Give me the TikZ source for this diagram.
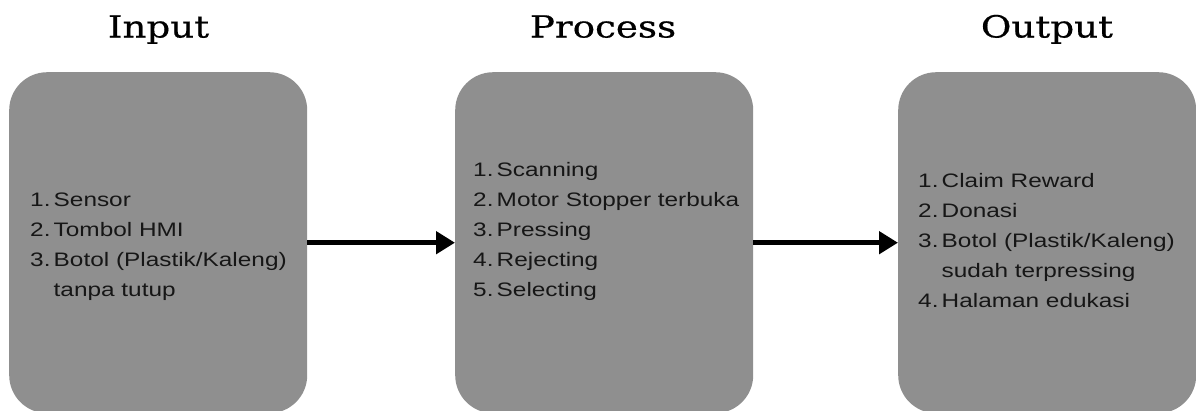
\documentclass[tikz,border=0pt]{standalone}
\usepackage{fontspec}
\setmainfont{Liberation Sans}
\newfontfamily\bodyfont[FakeStretch=1.25]{Liberation Sans}
\newfontfamily\titlefont[FakeStretch=1.22,FakeBold=0.5]{DejaVu Serif}
\usetikzlibrary{arrows.meta}
\definecolor{boxgrey}{HTML}{8F8F8F}
\definecolor{txt}{HTML}{161616}
\newcommand{\itm}[2]{\makebox[23.5pt][l]{#1}#2}
\begin{document}
\begin{tikzpicture}[x=1pt,y=-1pt,
  greybox/.style={fill=boxgrey, draw=none, rounded corners=38pt,
    minimum width=298pt, minimum height=341pt, anchor=north west, inner sep=0pt},
  title/.style={font=\titlefont\fontsize{30.5}{36}\selectfont, anchor=base, inner sep=0pt, text=black},
  listtext/.style={font=\bodyfont\fontsize{19.5}{30}\selectfont, anchor=base west, inner sep=0pt, text=txt},
  flow/.style={line width=5pt, -{Triangle[length=19pt,width=22pt]}}]
\useasboundingbox (0,0) rectangle (1196,410);
\node[greybox] (in) at (9,72) {};
\node[greybox] (pr) at (455,72) {};
\node[greybox] (out) at (898,72) {};
\node[title] (tin) at (158.5,37.5) {Input};
\node[title] (tpr) at (603,37.5) {Process};
\node[title] (tout) at (1047,37.5) {Output};
\node[listtext] (lin) at (30,206) {\begin{tabular}[t]{@{}l@{}}
\itm{1.}{Sensor}\\
\itm{2.}{Tombol HMI}\\
\itm{3.}{Botol (Plastik/Kaleng)}\\
\itm{}{tanpa tutup}
\end{tabular}};
\node[listtext] (lpr) at (473,176) {\begin{tabular}[t]{@{}l@{}}
\itm{1.}{Scanning}\\
\itm{2.}{Motor Stopper terbuka}\\
\itm{3.}{Pressing}\\
\itm{4.}{Rejecting}\\
\itm{5.}{Selecting}
\end{tabular}};
\node[listtext] (lout) at (918,187) {\begin{tabular}[t]{@{}l@{}}
\itm{1.}{Claim Reward}\\
\itm{2.}{Donasi}\\
\itm{3.}{Botol (Plastik/Kaleng)}\\
\itm{}{sudah terpressing}\\
\itm{4.}{Halaman edukasi}
\end{tabular}};
\draw[flow] (in.east) -- (pr.west);
\draw[flow] (pr.east) -- (out.west);
\end{tikzpicture}
\end{document}
